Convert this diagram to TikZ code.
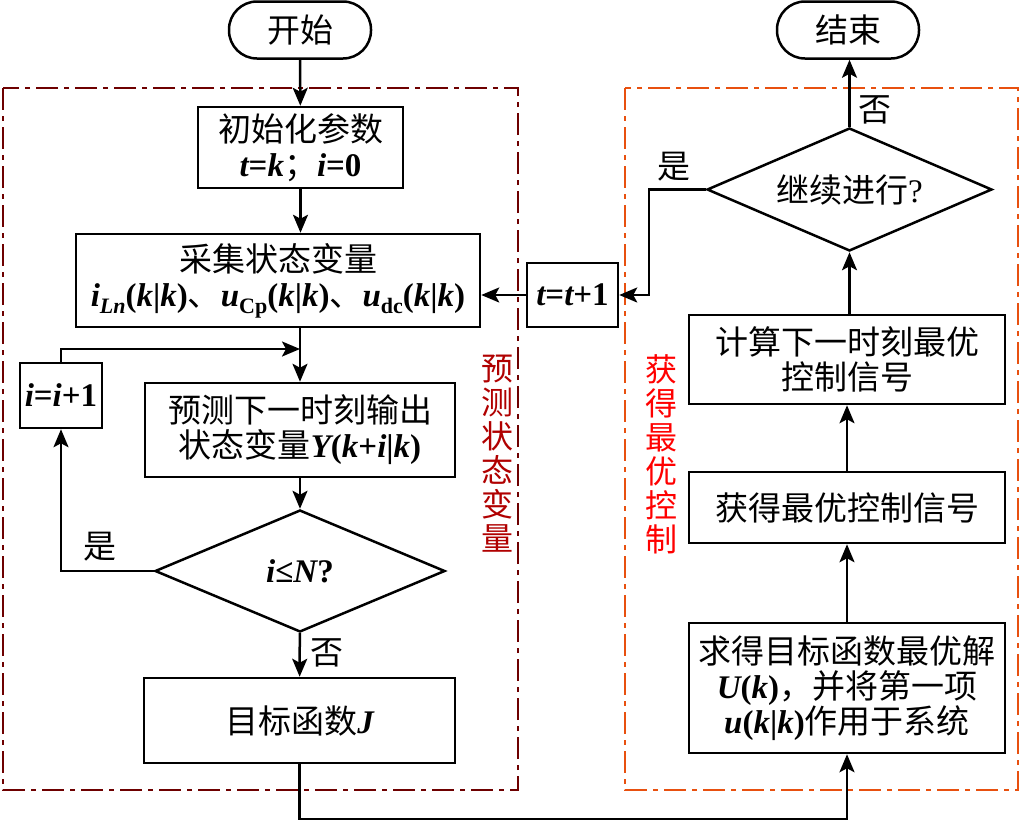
\documentclass[tikz,border=0pt]{standalone}
\usepackage{fontspec}
\setmainfont{Noto Sans CJK SC}
\newfontfamily\latf{Liberation Serif}
\usetikzlibrary{shapes.geometric, arrows.meta, positioning}

\definecolor{boxred}{RGB}{110,0,0}
\definecolor{labred}{RGB}{176,0,0}
\definecolor{boxorange}{RGB}{232,80,15}

\newcommand{\lv}[1]{{\latf\bfseries\itshape #1}}
\newcommand{\lu}[1]{{\latf\bfseries #1}}
\newcommand{\lsub}[1]{\raisebox{-0.4ex}{\fontsize{22}{22}\selectfont #1}}

\begin{document}
\begin{tikzpicture}[x=1pt, y=-1pt, line width=2.5pt,
    font=\fontsize{33}{35}\selectfont,
    arr/.style={-{Stealth[length=18pt,width=15pt,inset=4pt]}},
    proc/.style={draw, rectangle, align=center, inner sep=0pt},
    term/.style={draw, rectangle, rounded corners=28pt, minimum width=142pt, minimum height=57pt},
    decide/.style={draw, diamond, inner sep=0pt, aspect=2.35},
    region/.style={dash pattern=on 22pt off 6pt on 5pt off 6pt},
    vlabel/.style={align=center, font=\fontsize{32}{34}\selectfont}]
    \useasboundingbox (0,0) rectangle (1031,825);

    % left part
    \draw[region, boxred] (3,88) rectangle (518,790);
    \node[term] (start) at (300,30) {开始};
    \node[proc, minimum width=205pt, minimum height=81pt] (init) at (300.5,147.5)
        {初始化参数\\\lv{t}\lu{=}\lv{k}；\lv{i}\lu{=0}};
    \node[proc, minimum width=404pt, minimum height=93pt] (collect) at (278,280.5)
        {采集状态变量\\\lv{i}\lsub{\lv{Ln}}\lu{(}\lv{k}\lu{|}\lv{k}\lu{)}、\lv{u}\lsub{\lu{C}\lu{p}}\lu{(}\lv{k}\lu{|}\lv{k}\lu{)}、\lv{u}\lsub{\lu{dc}}\lu{(}\lv{k}\lu{|}\lv{k}\lu{)}};
    \node[proc, minimum width=310pt, minimum height=94pt] (predict) at (300,430)
        {预测下一时刻输出\\状态变量\lv{Y}\lu{(}\lv{k}\lu{+}\lv{i}\lu{|}\lv{k}\lu{)}};
    \node[decide, minimum width=290pt, minimum height=122pt] (check) at (300,571)
        {\lv{i}\lu{≤}\lv{N}\lu{?}};
    \node[proc, minimum width=82pt, minimum height=65pt] (incr) at (61,395.5)
        {\lv{i}\lu{=}\lv{i}\lu{+1}};
    \node[proc, minimum width=311pt, minimum height=85pt] (cost) at (299.5,720.5)
        {目标函数\lv{J}};
    \node[vlabel, labred] (leftlab) at (497,454) {预\\测\\状\\态\\变\\量};
    \node (yes1) at (100,547) {是};
    \node (no1) at (327,653) {否};

    % right part
    \draw[region, boxorange] (625,88) rectangle (1018,790);
    \node[term] (stop) at (848,30) {结束};
    \node[decide, minimum width=285pt, minimum height=123pt] (cont) at (849.5,189.5)
        {继续进行{\latf ?}};
    \node[proc, minimum width=91pt, minimum height=64pt] (tstep) at (572.5,295)
        {\lv{t}\lu{=}\lv{t}\lu{+1}};
    \node[proc, minimum width=316pt, minimum height=89pt] (calc) at (847,359.5)
        {计算下一时刻最优\\控制信号};
    \node[proc, minimum width=316pt, minimum height=71pt] (obtain) at (847,507.5)
        {获得最优控制信号};
    \node[proc, minimum width=316pt, minimum height=130pt] (solve) at (847,688)
        {求得目标函数最优解\\\lv{U}\lu{(}\lv{k}\lu{)}，并将第一项\\\lv{u}\lu{(}\lv{k}\lu{|}\lv{k}\lu{)}作用于系统};
    \node[vlabel, red] (rightlab) at (661,454) {获\\得\\最\\优\\控\\制};
    \node (yes2) at (674,167) {是};
    \node (no2) at (875,110) {否};

    \coordinate (join) at (300,349);
    \coordinate (base) at (0,819);
    \coordinate (bend) at (649,189.5);

    % connectors
    \draw[arr] (start) -- (init);
    \draw[arr] (init.south) -- (init.south |- collect.north);
    \draw[arr] (predict.north |- collect.south) -- (predict.north);
    \draw[arr] (incr.north) |- (join);
    \draw[arr] (predict) -- (check);
    \draw[arr] (check.west) -| (incr.south);
    \draw[arr] (check) -- (cost);
    \draw[arr] (cost.south) -- (cost.south |- base) -| (solve.south);
    \draw[arr] (solve) -- (obtain);
    \draw[arr] (obtain) -- (calc);
    \draw[arr] (calc.north -| cont.south) -- (cont.south);
    \draw[arr] (cont.north) -- (cont.north |- stop.south);
    \draw[arr] (cont.west) -- (bend) |- (tstep.east);
    \draw[arr] (tstep.west) -- (tstep.west -| collect.east);
\end{tikzpicture}
\end{document}
